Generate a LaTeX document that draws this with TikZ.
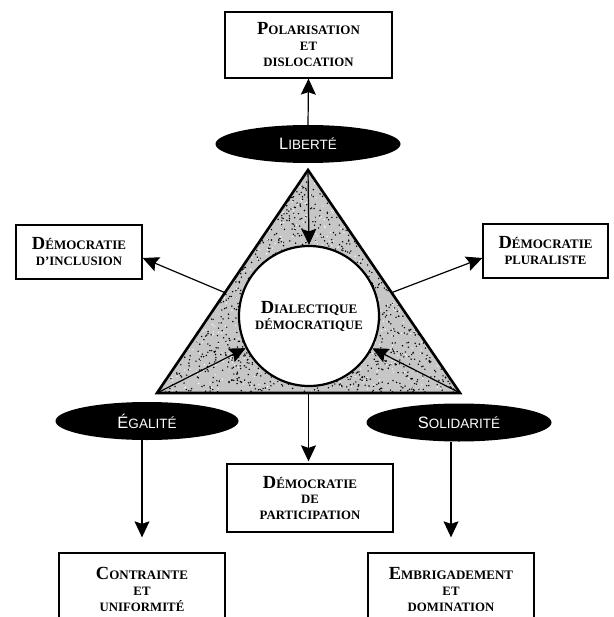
\documentclass[tikz,border=0pt]{standalone}
\usepackage{fontspec}
\setmainfont{Liberation Serif}
\setsansfont{Liberation Sans}
\usepackage{tikz}
\usetikzlibrary{shapes.geometric, arrows.meta, calc}

\newcommand{\capword}[2]{{\fontsize{18.5}{16}\selectfont #1}{\fontsize{13}{16}\selectfont #2}}
\newcommand{\lowword}[1]{{\fontsize{12.8}{16}\selectfont #1}}
\newcommand{\capsans}[2]{{\fontsize{16.5}{16}\selectfont #1}{\fontsize{13.5}{16}\selectfont #2}}

\begin{document}
\begin{tikzpicture}[x=1pt, y=-1pt,
    notion/.style={draw, line width=1.3pt, rectangle, align=center,
      font=\bfseries\fontsize{12.8}{16}\selectfont, inner sep=0pt},
    valeur/.style={ellipse, fill=black, text=white, font=\sffamily,
      inner sep=0pt, minimum width=185pt, minimum height=38pt},
    arr/.style={-{Stealth[length=16pt, width=15pt, inset=2.5pt]}, line width=1.2pt}
  ]
    \clip (0,0) rectangle (613,617);

    \coordinate (apex) at (308,170);
    \coordinate (bl) at (157,393);
    \coordinate (br) at (460,393);
    \coordinate (base) at ($(bl)!0.5!(br)$);
    \coordinate (lside) at ($(apex)!0.55!(bl)$);
    \coordinate (rside) at ($(apex)!0.55!(br)$);

    % stippled triangle
    \begin{scope}
      \clip (apex) -- (bl) -- (br) -- cycle;
      \fill[gray!45] (apex) -- (bl) -- (br) -- cycle;
      \pgfmathsetseed{3}
      \foreach \i in {1,...,2600}
        \fill (155+310*rnd, 170+225*rnd) circle (0.8);
      \foreach \i in {1,...,900}
        \fill[white] (155+310*rnd, 170+225*rnd) circle (0.7);
    \end{scope}
    \draw[line width=2.6pt, line join=miter] (apex) -- (bl) -- (br) -- cycle;

    \node[circle, draw, line width=2.2pt, fill=white, minimum size=140pt, inner sep=0pt,
      align=center, font=\bfseries\fontsize{12.8}{16}\selectfont] (dial) at (309,316)
      {\capword{D}{IALECTIQUE}\\ \lowword{DÉMOCRATIQUE}};

    \node[notion, minimum width=167pt, minimum height=66pt] (polar) at (308.5,45)
      {\capword{P}{OLARISATION}\\ \lowword{ET}\\ \lowword{DISLOCATION}};
    \node[valeur] (lib) at (308,144) {\capsans{L}{IBERTÉ}};

    \node[notion, minimum width=126pt, minimum height=54pt] (incl) at (79,252)
      {\capword{D}{ÉMOCRATIE}\\ \lowword{D'INCLUSION}};
    \node[notion, minimum width=125pt, minimum height=54pt] (plur) at (545.5,251)
      {\capword{D}{ÉMOCRATIE}\\ \lowword{PLURALISTE}};

    \node[valeur, minimum width=183pt] (ega) at (147,421) {\capsans{É}{GALITÉ}};
    \node[valeur] (sol) at (459,422.5) {\capsans{S}{OLIDARITÉ}};

    \node[notion, minimum width=166pt, minimum height=68pt] (part) at (310,498)
      {\capword{D}{ÉMOCRATIE}\\ \lowword{DE}\\ \lowword{PARTICIPATION}};
    \node[notion, minimum width=166pt, minimum height=72pt] (contr) at (142,589)
      {\capword{C}{ONTRAINTE}\\ \lowword{ET}\\ \lowword{UNIFORMITÉ}};
    \node[notion, minimum width=166pt, minimum height=72pt] (embr) at (451,589)
      {\capword{E}{MBRIGADEMENT}\\ \lowword{ET}\\ \lowword{DOMINATION}};

    % arrows
    \draw[arr] (lib.north) -- (polar.south);
    \draw[arr] (apex) -- (dial.north);
    \draw[arr] (bl) -- (dial);
    \draw[arr] (br) -- (dial);
    \draw[arr] (lside) -- ($(incl.east)+(0,6)$);
    \draw[arr] (rside) -- ($(plur.west)+(0,7)$);
    \draw[arr, shorten >=2pt] (base) -- (base |- part.north);
    \draw[arr, shorten >=15pt] (contr.north |- ega.south) -- (contr.north);
    \draw[arr, shorten >=15pt] (embr.north |- sol.south) -- (embr.north);
\end{tikzpicture}
\end{document}
